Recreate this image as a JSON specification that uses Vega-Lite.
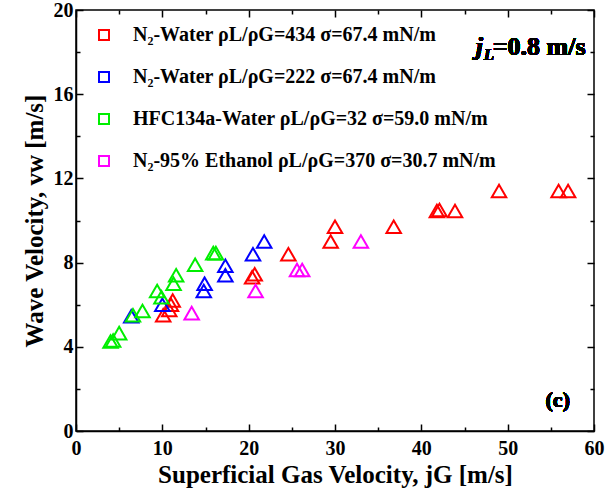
{
  "$schema": "https://vega.github.io/schema/vega-lite/v6.json",
  "width": 518,
  "height": 421,
  "autosize": "none",
  "padding": {"left": 76, "top": 10, "right": 11, "bottom": 68},
  "background": "white",
  "config": {
    "view": {"stroke": "black", "strokeWidth": 1.5},
    "font": "Liberation Serif"
  },
  "data": {
    "values": [
      {"jG": 10.1, "vw": 5.5, "series": "N₂-Water ρL/ρG=434 σ=67.4 mN/m"},
      {"jG": 10.8, "vw": 5.75, "series": "N₂-Water ρL/ρG=434 σ=67.4 mN/m"},
      {"jG": 11.0, "vw": 6.0, "series": "N₂-Water ρL/ρG=434 σ=67.4 mN/m"},
      {"jG": 11.2, "vw": 6.2, "series": "N₂-Water ρL/ρG=434 σ=67.4 mN/m"},
      {"jG": 20.4, "vw": 7.3, "series": "N₂-Water ρL/ρG=434 σ=67.4 mN/m"},
      {"jG": 20.7, "vw": 7.45, "series": "N₂-Water ρL/ρG=434 σ=67.4 mN/m"},
      {"jG": 24.6, "vw": 8.4, "series": "N₂-Water ρL/ρG=434 σ=67.4 mN/m"},
      {"jG": 29.5, "vw": 9.0, "series": "N₂-Water ρL/ρG=434 σ=67.4 mN/m"},
      {"jG": 30.0, "vw": 9.7, "series": "N₂-Water ρL/ρG=434 σ=67.4 mN/m"},
      {"jG": 36.8, "vw": 9.7, "series": "N₂-Water ρL/ρG=434 σ=67.4 mN/m"},
      {"jG": 41.8, "vw": 10.45, "series": "N₂-Water ρL/ρG=434 σ=67.4 mN/m"},
      {"jG": 42.1, "vw": 10.5, "series": "N₂-Water ρL/ρG=434 σ=67.4 mN/m"},
      {"jG": 43.9, "vw": 10.45, "series": "N₂-Water ρL/ρG=434 σ=67.4 mN/m"},
      {"jG": 49.0, "vw": 11.4, "series": "N₂-Water ρL/ρG=434 σ=67.4 mN/m"},
      {"jG": 55.9, "vw": 11.4, "series": "N₂-Water ρL/ρG=434 σ=67.4 mN/m"},
      {"jG": 57.0, "vw": 11.4, "series": "N₂-Water ρL/ρG=434 σ=67.4 mN/m"},
      {"jG": 6.4, "vw": 5.45, "series": "N₂-Water ρL/ρG=222 σ=67.4 mN/m"},
      {"jG": 10.0, "vw": 6.0, "series": "N₂-Water ρL/ρG=222 σ=67.4 mN/m"},
      {"jG": 14.8, "vw": 6.65, "series": "N₂-Water ρL/ρG=222 σ=67.4 mN/m"},
      {"jG": 14.9, "vw": 7.0, "series": "N₂-Water ρL/ρG=222 σ=67.4 mN/m"},
      {"jG": 17.3, "vw": 7.4, "series": "N₂-Water ρL/ρG=222 σ=67.4 mN/m"},
      {"jG": 17.3, "vw": 7.85, "series": "N₂-Water ρL/ρG=222 σ=67.4 mN/m"},
      {"jG": 20.5, "vw": 8.4, "series": "N₂-Water ρL/ρG=222 σ=67.4 mN/m"},
      {"jG": 21.8, "vw": 9.0, "series": "N₂-Water ρL/ρG=222 σ=67.4 mN/m"},
      {"jG": 4.0, "vw": 4.25, "series": "HFC134a-Water ρL/ρG=32   σ=59.0 mN/m"},
      {"jG": 4.3, "vw": 4.3, "series": "HFC134a-Water ρL/ρG=32   σ=59.0 mN/m"},
      {"jG": 5.0, "vw": 4.65, "series": "HFC134a-Water ρL/ρG=32   σ=59.0 mN/m"},
      {"jG": 6.6, "vw": 5.5, "series": "HFC134a-Water ρL/ρG=32   σ=59.0 mN/m"},
      {"jG": 7.7, "vw": 5.7, "series": "HFC134a-Water ρL/ρG=32   σ=59.0 mN/m"},
      {"jG": 9.4, "vw": 6.65, "series": "HFC134a-Water ρL/ρG=32   σ=59.0 mN/m"},
      {"jG": 9.9, "vw": 6.35, "series": "HFC134a-Water ρL/ρG=32   σ=59.0 mN/m"},
      {"jG": 11.3, "vw": 7.0, "series": "HFC134a-Water ρL/ρG=32   σ=59.0 mN/m"},
      {"jG": 11.6, "vw": 7.4, "series": "HFC134a-Water ρL/ρG=32   σ=59.0 mN/m"},
      {"jG": 13.8, "vw": 7.9, "series": "HFC134a-Water ρL/ρG=32   σ=59.0 mN/m"},
      {"jG": 15.9, "vw": 8.45, "series": "HFC134a-Water ρL/ρG=32   σ=59.0 mN/m"},
      {"jG": 16.2, "vw": 8.45, "series": "HFC134a-Water ρL/ρG=32   σ=59.0 mN/m"},
      {"jG": 13.4, "vw": 5.6, "series": "N₂-95% Ethanol ρL/ρG=370 σ=30.7 mN/m"},
      {"jG": 20.8, "vw": 6.65, "series": "N₂-95% Ethanol ρL/ρG=370 σ=30.7 mN/m"},
      {"jG": 25.6, "vw": 7.65, "series": "N₂-95% Ethanol ρL/ρG=370 σ=30.7 mN/m"},
      {"jG": 26.2, "vw": 7.65, "series": "N₂-95% Ethanol ρL/ρG=370 σ=30.7 mN/m"},
      {"jG": 33.0, "vw": 9.0, "series": "N₂-95% Ethanol ρL/ρG=370 σ=30.7 mN/m"}
    ]
  },
  "resolve": {"axis": {"x": "independent", "y": "independent"}},
  "layer": [
    {
      "mark": {"type": "point", "shape": "triangle-up", "filled": false, "strokeWidth": 2, "size": 210, "opacity": 1},
      "encoding": {
        "x": {
          "field": "jG", "type": "quantitative",
          "scale": {"domain": [0, 60], "nice": false, "zero": false},
          "axis": {
            "title": "Superficial Gas Velocity, jG [m/s]",
            "values": [0, 5, 10, 15, 20, 25, 30, 35, 40, 45, 50, 55, 60],
            "labelExpr": "datum.value % 10 === 0 ? datum.label : ''",
            "tickSize": {"condition": {"test": "datum.value % 10 === 0", "value": -7}, "value": -4},
            "tickColor": "black", "tickWidth": 1.5,
            "domainColor": "black", "domainWidth": 1.5,
            "grid": false,
            "labelFont": "Liberation Serif", "labelFontSize": 20, "labelFontWeight": "bold", "labelColor": "black",
            "labelPadding": 14, "labelFlush": false,
            "titleFont": "Liberation Serif", "titleFontSize": 25, "titleFontWeight": "bold", "titleColor": "black",
            "titlePadding": 4
          }
        },
        "y": {
          "field": "vw", "type": "quantitative",
          "scale": {"domain": [0, 20], "nice": false, "zero": false},
          "axis": {
            "title": "Wave Velocity, vw [m/s]",
            "values": [0, 2, 4, 6, 8, 10, 12, 14, 16, 18, 20],
            "labelExpr": "datum.value % 4 === 0 ? datum.label : ''",
            "tickSize": {"condition": {"test": "datum.value % 4 === 0", "value": -7}, "value": -4},
            "tickColor": "black", "tickWidth": 1.5,
            "domainColor": "black", "domainWidth": 1.5,
            "grid": false,
            "labelFont": "Liberation Serif", "labelFontSize": 20, "labelFontWeight": "bold", "labelColor": "black",
            "labelPadding": 10, "labelFlush": false,
            "titleFont": "Liberation Serif", "titleFontSize": 25, "titleFontWeight": "bold", "titleColor": "black",
            "titlePadding": 6
          }
        },
        "color": {
          "field": "series", "type": "nominal",
          "scale": {
            "domain": ["N₂-Water ρL/ρG=434 σ=67.4 mN/m", "N₂-Water ρL/ρG=222 σ=67.4 mN/m", "HFC134a-Water ρL/ρG=32   σ=59.0 mN/m", "N₂-95% Ethanol ρL/ρG=370 σ=30.7 mN/m"],
            "range": ["#FF0000", "#0000FF", "#00EE00", "#FF00FF"]
          },
          "legend": {
            "title": null,
            "orient": "none",
            "legendX": 18,
            "legendY": 15,
            "symbolType": "square",
            "symbolSize": 100,
            "symbolStrokeWidth": 2,
            "symbolFillColor": "transparent",
            "labelFont": "Liberation Serif", "labelFontSize": 20, "labelFontWeight": "bold", "labelColor": "black",
            "labelOffset": 19,
            "rowPadding": 22,
            "labelLimit": 500
          }
        }
      }
    },
    {
      "mark": {"type": "text", "text": "(c)", "font": "Liberation Serif", "fontSize": 22, "fontWeight": "bold", "color": "black"},
      "encoding": {
        "x": {"datum": 55.8, "type": "quantitative", "axis": {"orient": "top", "title": null, "labels": false, "values": [0, 5, 10, 15, 20, 25, 30, 35, 40, 45, 50, 55, 60], "tickSize": {"condition": {"test": "datum.value % 10 === 0", "value": -7}, "value": -4}, "tickColor": "black", "tickWidth": 1.5, "domain": false, "grid": false}},
        "y": {"datum": 1.45, "type": "quantitative", "axis": {"orient": "right", "title": null, "labels": false, "values": [0, 2, 4, 6, 8, 10, 12, 14, 16, 18, 20], "tickSize": {"condition": {"test": "datum.value % 4 === 0", "value": -7}, "value": -4}, "tickColor": "black", "tickWidth": 1.5, "domain": false, "grid": false}}
      }
    },
    {
      "mark": {"type": "text", "text": "j", "align": "left", "font": "Liberation Serif", "fontSize": 26, "fontWeight": "bold", "fontStyle": "italic", "color": "black"},
      "encoding": {
        "x": {"datum": 46.3, "type": "quantitative", "axis": null},
        "y": {"datum": 18.25, "type": "quantitative", "axis": null}
      }
    },
    {
      "mark": {"type": "text", "text": "L", "align": "left", "dx": 8, "dy": 8, "font": "Liberation Serif", "fontSize": 17, "fontWeight": "bold", "fontStyle": "italic", "color": "black"},
      "encoding": {
        "x": {"datum": 46.3, "type": "quantitative", "axis": null},
        "y": {"datum": 18.25, "type": "quantitative", "axis": null}
      }
    },
    {
      "mark": {"type": "text", "text": "=0.8 m/s", "align": "left", "dx": 17, "font": "Liberation Serif", "fontSize": 26, "fontWeight": "bold", "color": "black"},
      "encoding": {
        "x": {"datum": 46.3, "type": "quantitative", "axis": null},
        "y": {"datum": 18.25, "type": "quantitative", "axis": null}
      }
    }
  ]
}
